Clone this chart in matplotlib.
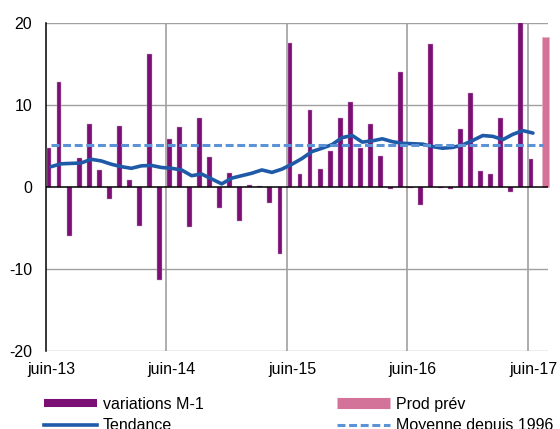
import numpy as np
import matplotlib
matplotlib.use("Agg")
import matplotlib.pyplot as plt
from matplotlib.lines import Line2D

plt.rcParams['font.family'] = ['Liberation Sans', 'DejaVu Sans']
plt.rcParams['axes.unicode_minus'] = False

# monthly data, juin-13 .. juil-17
variations = [4.8, 12.8, -6.0, 3.5, 7.7, 2.1, -1.4, 7.5, 0.85, -4.8, 16.3, -11.3,
              5.85, 7.3, -4.9, 8.4, 3.7, -2.5, 1.7, -4.1, 0.25, 0.2, -1.9, -8.1,
              17.6, 1.65, 9.4, 2.2, 4.4, 8.4, 10.4, 4.75, 7.7, 3.8, -0.2, 14.0,
              -0.1, -2.15, 17.5, -0.15, -0.25, 7.1, 11.45, 2.0, 1.6, 8.45, -0.6, 20.5,
              3.45]
tendance = [2.5, 2.85, 2.9, 2.95, 3.4, 3.2, 2.8, 2.5, 2.3, 2.6, 2.65, 2.4,
            2.3, 2.1, 1.4, 1.6, 1.0, 0.4, 1.1, 1.4, 1.7, 2.1, 1.8, 2.2,
            2.8, 3.5, 4.35, 4.75, 5.2, 6.05, 6.3, 5.5, 5.65, 5.9, 5.55, 5.35,
            5.3, 5.25, 4.95, 4.75, 4.85, 5.15, 5.7, 6.3, 6.2, 5.8, 6.45, 6.9,
            6.6]
prod_prev = 18.3          # last month (juil-17)
moyenne = 5.15            # moyenne depuis 1996
n_mois = 50
tick_labels = ["juin-13", "juin-14", "juin-15", "juin-16", "juin-17"]

purple = "#7b0f73"
pink = "#d4739a"
dark_blue = "#1f5aa8"
light_blue = "#5b93d6"
grid_col = "#a0a0a0"

fig = plt.figure(figsize=(5.6, 4.29), dpi=100)
ax = fig.add_axes([46/560, 1-351/429, 502/560, 327.7/429])

x = np.arange(len(variations))
ax.bar(x + 0.3, variations, width=0.48, color=purple, edgecolor="#c9a0c6",
       linewidth=0.3, zorder=3)
ax.bar(n_mois - 1 + 0.75, prod_prev, width=0.7, color=pink, edgecolor="#e8b3c7",
       linewidth=0.5, zorder=3, clip_on=False)

ax.plot(x + 0.5, tendance, color=dark_blue, lw=2.6, zorder=4,
        solid_joinstyle="round", solid_capstyle="round")
xm = np.arange(n_mois) + 0.5
ax.plot(xm, [moyenne]*n_mois, color=light_blue, lw=2.2, dashes=(2.6, 1.2),
        zorder=5)

ax.set_xlim(0, n_mois)
ax.set_ylim(-20, 20)

for yv in [-20, -10, 10, 20]:
    ax.axhline(yv, color=grid_col, lw=1.0, zorder=1)
for k in range(1, len(tick_labels)):
    ax.axvline(12*k, color=grid_col, lw=1.2, zorder=1)
ax.axhline(0, color="black", lw=1.1, zorder=4)

for s in ["top", "right", "bottom"]:
    ax.spines[s].set_visible(False)
ax.spines["left"].set_linewidth(1.1)

ax.set_yticks([-20, -10, 0, 10, 20])
ax.set_xticks([12*k + 0.5 for k in range(len(tick_labels))])
ax.set_xticklabels(tick_labels)
ax.tick_params(axis="both", length=0, labelsize=11.5)
ax.tick_params(axis="y", pad=10)
ax.tick_params(axis="x", pad=8)

h1 = [Line2D([], [], color=purple, lw=5.8, solid_capstyle="butt"),
      Line2D([], [], color=dark_blue, lw=2.6)]
h2 = [Line2D([], [], color=pink, lw=8, solid_capstyle="butt"),
      Line2D([], [], color=light_blue, lw=2.2, dashes=(2.6, 1.2))]
kw = dict(frameon=False, fontsize=11.5, handlelength=3.3, handletextpad=0.4,
          labelspacing=0.4, borderpad=0, borderaxespad=0, loc="upper left")
fig.legend(h1, ["variations M-1", "Tendance"], bbox_to_anchor=(44/560, 1-397/429), **kw)
fig.legend(h2, ["Prod prév", "Moyenne depuis 1996"], bbox_to_anchor=(337/560, 1-397/429), **kw)

fig.savefig("out.png", dpi=100)
